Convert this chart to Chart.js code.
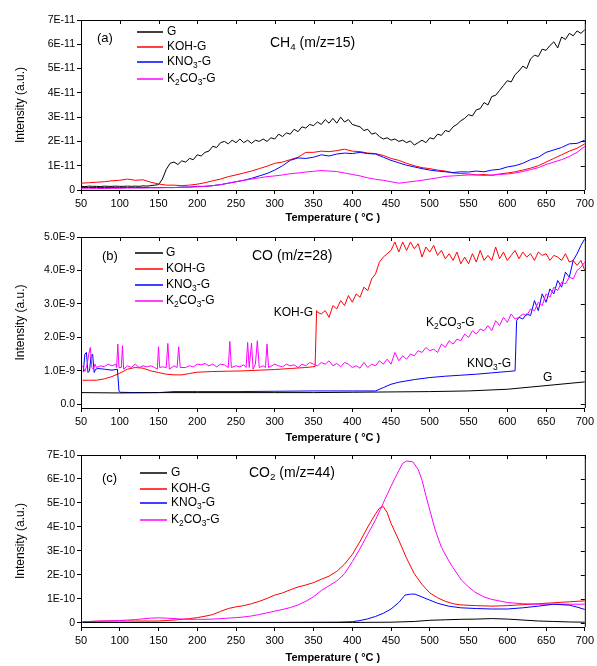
<!DOCTYPE html>
<html lang="en">
<head>
<meta charset="UTF-8">
<title>CH4 / CO / CO2 signals</title>
<script src="https://cdn.jsdelivr.net/npm/chart.js"></script>
<style>
  body { margin: 0; background: #fff; }
  canvas { display: block; }
</style>
</head>
<body>
<canvas id="chA" width="597" height="228"></canvas>
<canvas id="chB" width="597" height="218"></canvas>
<canvas id="chC" width="597" height="220"></canvas>
<script>
// temperature grids (deg C)
const t5 = [50,55,60,65,70,75,80,85,90,95,100,105,110,115,120,125,130,135,140,145,150,155,160,165,170,175,180,185,190,195,200,205,210,215,220,225,230,235,240,245,250,255,260,265,270,275,280,285,290,295,300,305,310,315,320,325,330,335,340,345,350,355,360,365,370,375,380,385,390,395,400,405,410,415,420,425,430,435,440,445,450,455,460,465,470,475,480,485,490,495,500,505,510,515,520,525,530,535,540,545,550,555,560,565,570,575,580,585,590,595,600,605,610,615,620,625,630,635,640,645,650,655,660,665,670,675,680,685,690,695,700];
const t10 = [50,60,70,80,90,100,110,120,130,140,150,160,170,180,190,200,210,220,230,240,250,260,270,280,290,300,310,320,330,340,350,360,370,380,390,400,410,420,430,440,450,460,470,480,490,500,510,520,530,540,550,560,570,580,590,600,610,620,630,640,650,660,670,680,690,700];
const t50 = [50,100,150,200,250,300,350,400,450,500,550,600,650,700];
const tempTicks = [50,100,150,200,250,300,350,400,450,500,550,600,650,700];

// (a) CH4 m/z=15, units of 1E-11
const ch4Ticks = [0,1,2,3,4,5,6,7];
const ch4Labels = ['0','1E-11','2E-11','3E-11','4E-11','5E-11','6E-11','7E-11'];
const ch4G = [0.15,0.14,0.16,0.15,0.15,0.14,0.16,0.15,0.15,0.16, 0.15,0.15,0.16,0.15,0.16,0.15,0.17,0.16,0.18,0.2,
  0.22,0.45,0.85,1.1,1.15,1.05,1.2,1.15,1.3,1.25, 1.45,1.4,1.55,1.6,1.8,1.75,1.95,2.0,1.9,2.05,
  1.95,2.1,1.95,2.05,1.92,2.05,2.0,2.1,2.0,2.15, 2.1,2.3,2.2,2.35,2.3,2.5,2.4,2.6,2.55,2.7,
  2.65,2.8,2.7,2.9,2.75,2.95,2.75,3.0,2.8,2.9, 2.7,2.65,2.6,2.45,2.5,2.3,2.35,2.2,2.1,2.15,
  2.05,2.1,2.0,2.05,1.95,2.02,1.85,1.95,2.05,1.95, 2.15,2.1,2.3,2.25,2.45,2.4,2.6,2.7,2.85,2.95,
  3.1,3.05,3.3,3.35,3.6,3.5,3.85,3.9,4.1,4.3, 4.5,4.45,4.75,4.9,5.1,5.0,5.4,5.55,5.5,5.8,
  5.75,5.95,6.1,5.85,6.3,6.2,6.45,6.35,6.55,6.45, 6.6];
const ch4KOH = [0.28,0.3,0.32,0.34,0.38,0.4,0.45,0.4,0.42,0.32, 0.25,0.2,0.2,0.18,0.2,0.24,0.3,0.38,0.45,0.55,
  0.62,0.7,0.78,0.88,0.98,1.1,1.15,1.25,1.35,1.55, 1.55,1.6,1.58,1.62,1.68,1.6,1.58,1.52,1.5,1.42,
  1.3,1.22,1.1,1.0,0.92,0.88,0.82,0.78,0.7,0.68, 0.66,0.62,0.64,0.6,0.66,0.7,0.75,0.82,0.9,1.0,
  1.15,1.3,1.45,1.6,1.72,1.9];
const ch4KNO3 = [0.1,0.1,0.1,0.1,0.1,0.1,0.1,0.1,0.1,0.1, 0.1,0.1,0.1,0.12,0.12,0.15,0.15,0.18,0.22,0.28,
  0.34,0.4,0.48,0.58,0.68,0.82,1.0,1.22,1.32,1.3, 1.35,1.45,1.4,1.48,1.52,1.5,1.55,1.5,1.48,1.35,
  1.22,1.12,1.02,0.95,0.88,0.82,0.78,0.75,0.72,0.75, 0.74,0.78,0.75,0.82,0.85,0.95,1.0,1.1,1.25,1.35,
  1.55,1.65,1.75,1.9,1.92,2.05];
const ch4K2CO3 = [0.05,0.05,0.06,0.06,0.07,0.07,0.08,0.08,0.08,0.09, 0.09,0.1,0.1,0.11,0.12,0.13,0.15,0.18,0.22,0.28,
  0.34,0.4,0.45,0.5,0.55,0.58,0.62,0.67,0.7,0.74, 0.77,0.8,0.78,0.76,0.7,0.64,0.58,0.5,0.44,0.4,
  0.34,0.28,0.32,0.36,0.4,0.45,0.5,0.56,0.58,0.6, 0.62,0.62,0.6,0.62,0.64,0.66,0.7,0.76,0.84,0.92,
  1.05,1.15,1.25,1.38,1.55,1.8];

// (b) CO m/z=28, units of 1E-9
const coTicks = [0,1,2,3,4,5];
const coLabels = ['0.0','1.0E-9','2.0E-9','3.0E-9','4.0E-9','5.0E-9'];
const coG = [0.35,0.34,0.35,0.35,0.35,0.35,0.35,0.36,0.37,0.38,0.4,0.45,0.56,0.67];
const coKOHt = [52,60,70,80,90,100,110,120,130,140,150,160,170,180,190,200,220,240,260,280,300,320,340,352,354,
  355,360,365,370,375,380,385,390,395,400,405,410,415,420,425,430,435,440,445,450,455,460,465,470,475,480,485,490,495,500,
  505,510,515,520,525,530,535,540,545,550,555,560,565,570,575,580,585,590,595,600,605,610,615,620,625,630,635,640,645,650,
  655,660,665,670,675,680,685,690,695,700];
const coKOH = [0.72,0.72,0.72,0.76,0.83,0.93,1.05,1.1,1.08,1.0,0.95,0.9,0.88,0.88,0.92,0.96,0.98,0.99,1.0,1.02,1.04,1.07,1.1,1.13,2.8,
  2.75,2.7,2.8,2.6,2.95,2.85,3.1,2.95,3.25,3.05, 3.3,3.2,3.5,3.4,3.75,3.9,4.25,4.4,4.5,4.6,
  4.85,4.55,4.85,4.6,4.85,4.65,4.8,4.4,4.7,4.55, 4.75,4.45,4.6,4.35,4.5,4.3,4.55,4.2,4.4,4.2,
  4.5,4.25,4.6,4.3,4.45,4.3,4.7,4.35,4.55,4.3, 4.45,4.6,4.35,4.55,4.4,4.5,4.3,4.55,4.45,4.5,
  4.3,4.45,4.4,4.3,4.5,4.25,4.3,4.15,4.3,4.0];
const coKNO3t = [53,55,57,59,61,63,65,67,69,72,80,90,97,99,100,120,150,170,200,250,300,350,400,430,440,450,460,480,500,520,540,560,580,600,610,612,
  615,620,625,630,635,640,645,650,655,660,665,670,675,680,685,690,695,700];
const coKNO3 = [0.97,1.5,1.55,0.95,1.0,1.45,1.5,0.95,1.05,1.07,1.05,1.02,1.05,0.4,0.36,0.35,0.35,0.38,0.38,0.38,0.39,0.4,0.4,0.4,0.5,0.6,0.66,0.74,0.8,0.84,0.87,0.9,0.94,0.98,1.0,2.5,
  2.6,2.55,2.7,2.65,3.1,2.8,3.3,3.05,3.45,3.3,3.7,3.5,3.95,3.8,4.3,4.5,4.75,4.95];
const coK2CO3t = [52,55,58,60,62,64,66,68,70,75,80,85,90,95,96,97.5,99,102,103.5,105,110,115,120,125,130,135,140,145,148.5,150,
  151.5,155,160,162,164,170,174,176,178,185,190,195,200,205,210,215,220,225,230,235,240,242,244,250,255,260,263,265,267,270,
  272,275,277.5,280,285,288,290,292,
  300,305,310,315,320,325,330,335,340,345,350,355,360,365,370,375,380,385,390,395,400,405,410,415,420,425,430,435,440,445,
  450,455,460,465,470,475,480,485,490,495,500,505,510,515,520,525,530,535,540,545,550,555,560,565,570,575,580,585,590,595,
  600,605,610,615,620,625,630,635,640,645,650,655,660,665,670,675,680,685,690,695,700];
const coK2CO3 = [1.15,0.98,1.2,1.5,1.7,1.1,1.05,1.2,1.1,1.15, 1.12,1.2,1.15,1.2,1.1,1.8,1.1,1.1,1.75,1.05,
  1.15,1.1,1.2,1.1,1.15,1.12,1.15,1.1,1.05,1.72, 1.1,1.12,1.1,1.82,1.05,1.15,1.1,1.72,1.1,1.1,
  1.15,1.12,1.2,1.18,1.22,1.15,1.2,1.12,1.2,1.18, 1.1,1.88,1.1,1.15,1.12,1.18,1.1,1.85,1.1,1.83,
  1.05,1.2,1.9,1.1,1.15,1.1,1.8,1.1,
  1.2,1.15,1.12,1.2,1.15,1.18,1.1,1.2,1.15,1.25, 1.2,1.15,1.25,1.2,1.3,1.15,1.22,1.12,1.25,1.2,
  1.1,1.15,1.08,1.25,1.1,1.2,1.15,1.3,1.2,1.35, 1.2,1.55,1.3,1.45,1.35,1.5,1.45,1.6,1.55,1.7,
  1.6,1.65,1.55,1.8,1.7,1.9,1.8,1.95,1.9,2.1, 2.0,2.2,2.1,2.25,2.2,2.35,2.2,2.5,2.35,2.6,
  2.45,2.7,2.55,2.6,2.7,2.65,2.85,2.8,3.05,2.95, 3.3,3.2,3.5,3.4,3.65,3.6,3.8,3.75,4.0,4.1, 4.25];

// (c) CO2 m/z=44, units of 1E-10
const co2Ticks = [0,1,2,3,4,5,6,7];
const co2Labels = ['0','1E-10','2E-10','3E-10','4E-10','5E-10','6E-10','7E-10'];
const co2Gt = [52,100,200,300,400,450,480,500,520,540,560,580,600,620,640,660,680,700];
const co2G = [0.02,0.02,0.02,0.02,0.02,0.03,0.06,0.11,0.13,0.15,0.16,0.18,0.16,0.12,0.08,0.06,0.04,0.03];
const co2KOHt = [52,60,70,80,90,100,110,120,130,140,150,160,170,180,190,200,210,220,230,240,250,260,270,280,290,300,310,320,330,340,350,360,370,380,390,400,410,420,430,435,440,445,450,460,470,480,490,500,510,520,530,540,560,580,600,620,640,660,680,700];
const co2KOH = [0.05,0.06,0.07,0.08,0.08,0.08,0.08,0.08,0.08,0.08,0.08,0.1,0.12,0.15,0.18,0.22,0.28,0.35,0.48,0.6,0.67,0.72,0.8,0.9,1.02,1.16,1.25,1.38,1.5,1.58,1.68,1.82,1.95,2.15,2.45,2.85,3.4,4.0,4.55,4.78,4.85,4.6,4.15,3.45,2.7,2.05,1.6,1.25,1.05,0.9,0.8,0.75,0.72,0.7,0.72,0.76,0.8,0.84,0.88,0.92];
const co2KNO3t = [52,100,200,300,380,400,410,420,430,440,450,460,468,475,481,490,500,510,524,540,560,580,600,620,640,660,680,690,700];
const co2KNO3 = [0.02,0.02,0.02,0.02,0.03,0.05,0.1,0.17,0.27,0.4,0.58,0.85,1.16,1.2,1.2,1.08,0.95,0.82,0.7,0.63,0.6,0.58,0.58,0.63,0.7,0.78,0.74,0.66,0.56];
const co2K2CO3t = [52,60,70,80,90,100,110,120,130,140,150,160,170,180,190,200,210,220,230,240,250,260,270,280,290,300,310,320,330,340,350,360,370,380,390,400,410,420,430,440,450,460,465,470,478,485,490,495,500,507,515,524,530,541,550,558,570,580,600,620,640,660,680,700];
const co2K2CO3 = [0.05,0.06,0.07,0.08,0.09,0.1,0.12,0.14,0.17,0.2,0.21,0.2,0.18,0.16,0.15,0.15,0.15,0.16,0.18,0.2,0.22,0.25,0.29,0.35,0.42,0.49,0.56,0.64,0.75,0.9,1.09,1.35,1.55,1.75,2.05,2.55,3.1,3.7,4.3,5.0,5.7,6.35,6.65,6.75,6.72,6.4,5.95,5.3,4.7,3.87,3.15,2.62,2.3,1.78,1.5,1.29,1.08,0.98,0.85,0.8,0.78,0.78,0.78,0.78];

const FONT = '"Liberation Sans", Arial, sans-serif';
const BLACK = '#000000', RED = '#ff0000', BLUE = '#0000ff', MAGENTA = '#ff00ff';

function pts(xs, ys) { return xs.map((t, i) => ({ x: t, y: ys[i] })); }

// text with "_n" subscripts
function rich(ctx, str, x, y, size, align) {
  const parts = [];
  for (let i = 0; i < str.length; i++) {
    if (str[i] === '_') { parts.push([str[i + 1], 1]); i++; }
    else if (parts.length && !parts[parts.length - 1][1]) parts[parts.length - 1][0] += str[i];
    else parts.push([str[i], 0]);
  }
  const f = sub => `${sub ? size * 0.7 : size}px ${FONT}`;
  let w = 0;
  parts.forEach(p => { ctx.font = f(p[1]); w += ctx.measureText(p[0]).width; });
  let cx = align === 'right' ? x - w : align === 'center' ? x - w / 2 : x;
  ctx.textAlign = 'left';
  ctx.textBaseline = 'middle';
  parts.forEach(p => {
    ctx.font = f(p[1]);
    ctx.fillText(p[0], cx, p[1] ? y + size * 0.32 : y);
    cx += ctx.measureText(p[0]).width;
  });
}

function decor(o) {
  return {
    id: 'decor',
    afterDraw(chart) {
      const { ctx, chartArea: a, scales: { x, y } } = chart;
      ctx.save();
      ctx.strokeStyle = BLACK;
      ctx.lineWidth = 1;
      ctx.beginPath();
      ctx.moveTo(a.left, a.top + 0.5); ctx.lineTo(a.right + 0.5, a.top + 0.5);
      ctx.lineTo(a.right + 0.5, a.bottom);
      tempTicks.forEach(t => {
        const px = Math.round(x.getPixelForValue(t)) + 0.5;
        ctx.moveTo(px, a.top); ctx.lineTo(px, a.top + 4);
      });
      o.yTicks.forEach(v => {
        const py = Math.round(y.getPixelForValue(v)) + 0.5;
        ctx.moveTo(a.right, py); ctx.lineTo(a.right - 4, py);
      });
      ctx.stroke();

      // legend
      ctx.fillStyle = BLACK;
      ctx.lineWidth = 1.5;
      o.legend.rows.forEach(r => {
        ctx.strokeStyle = r.color;
        ctx.beginPath();
        ctx.moveTo(o.legend.x1, r.y); ctx.lineTo(o.legend.x2, r.y);
        ctx.stroke();
        rich(ctx, r.text, o.legend.tx, r.y, 12, 'left');
      });
      o.notes.forEach(n => rich(ctx, n.text, n.x, n.y, n.size, n.align || 'left'));
      ctx.restore();
    }
  };
}

function panel(id, o) {
  return new Chart(document.getElementById(id), {
    type: 'line',
    data: {
      datasets: o.series.map(s => ({
        data: pts(s.x, s.y), borderColor: s.color, borderWidth: 1,
        pointRadius: 0, tension: 0, fill: false
      }))
    },
    options: {
      responsive: false,
      animation: false,
      layout: { padding: { top: o.top, right: 10, left: 0, bottom: 0 } },
      plugins: { legend: { display: false }, tooltip: { enabled: false } },
      scales: {
        x: {
          type: 'linear', min: 50, max: 700,
          afterBuildTicks: s => { s.ticks = tempTicks.map(v => ({ value: v })); },
          afterFit: s => { s.height = o.xh; },
          grid: { drawOnChartArea: false, tickLength: 4, color: BLACK },
          border: { color: BLACK },
          ticks: { color: BLACK, font: { family: FONT, size: 11 }, padding: 3, maxRotation: 0 },
          title: { display: true, text: 'Temperature ( °C )', color: BLACK,
                   font: { family: FONT, size: 11, weight: 'bold' }, padding: { top: 0, bottom: o.tb } }
        },
        y: {
          min: o.ymin, max: o.ymax,
          afterBuildTicks: s => { s.ticks = o.yTicks.map(v => ({ value: v })); },
          afterFit: s => { s.width = 81; },
          grid: { drawOnChartArea: false, tickLength: 4, color: BLACK },
          border: { color: BLACK },
          ticks: { color: BLACK, font: { family: FONT, size: 10.5 }, padding: 2,
                   callback: v => o.yLabels[o.yTicks.indexOf(v)] },
          title: { display: true, text: 'Intensity (a.u.)', color: BLACK,
                   font: { family: FONT, size: 12 }, padding: { top: 13, bottom: 0 } }
        }
      }
    },
    plugins: [decor(o)]
  });
}

panel('chA', {
  top: 20, xh: 38, tb: 3, ymin: 0, ymax: 7, yTicks: ch4Ticks, yLabels: ch4Labels,
  series: [
    { x: t10, y: ch4K2CO3, color: MAGENTA },
    { x: t10, y: ch4KNO3, color: BLUE },
    { x: t10, y: ch4KOH, color: RED },
    { x: t5, y: ch4G, color: BLACK }
  ],
  legend: { x1: 137, x2: 163, tx: 167, rows: [
    { text: 'G', color: BLACK, y: 32 },
    { text: 'KOH-G', color: RED, y: 47 },
    { text: 'KNO_3-G', color: BLUE, y: 62 },
    { text: 'K_2CO_3-G', color: MAGENTA, y: 79 }
  ] },
  notes: [
    { text: '(a)', x: 97, y: 38, size: 13 },
    { text: 'CH_4 (m/z=15)', x: 270, y: 43, size: 14 }
  ]
});

panel('chB', {
  top: 9, xh: 38, tb: 1, ymin: -0.11, ymax: 5, yTicks: coTicks, yLabels: coLabels,
  series: [
    { x: t50, y: coG, color: BLACK },
    { x: coK2CO3t, y: coK2CO3, color: MAGENTA },
    { x: coKNO3t, y: coKNO3, color: BLUE },
    { x: coKOHt, y: coKOH, color: RED }
  ],
  legend: { x1: 135, x2: 163, tx: 166, rows: [
    { text: 'G', color: BLACK, y: 25 },
    { text: 'KOH-G', color: RED, y: 41 },
    { text: 'KNO_3-G', color: BLUE, y: 57 },
    { text: 'K_2CO_3-G', color: MAGENTA, y: 73 }
  ] },
  notes: [
    { text: '(b)', x: 102, y: 28, size: 13 },
    { text: 'CO (m/z=28)', x: 252, y: 28, size: 14 },
    { text: 'KOH-G', x: 313, y: 85, size: 12, align: 'right' },
    { text: 'K_2CO_3-G', x: 426, y: 95, size: 12 },
    { text: 'KNO_3-G', x: 467, y: 136, size: 12 },
    { text: 'G', x: 543, y: 150, size: 12 }
  ]
});

panel('chC', {
  top: 9, xh: 39, tb: 1, ymin: -0.17, ymax: 7, yTicks: co2Ticks, yLabels: co2Labels,
  series: [
    { x: co2Gt, y: co2G, color: BLACK },
    { x: co2KNO3t, y: co2KNO3, color: BLUE },
    { x: co2K2CO3t, y: co2K2CO3, color: MAGENTA },
    { x: co2KOHt, y: co2KOH, color: RED }
  ],
  legend: { x1: 140, x2: 167, tx: 171, rows: [
    { text: 'G', color: BLACK, y: 27 },
    { text: 'KOH-G', color: RED, y: 43 },
    { text: 'KNO_3-G', color: BLUE, y: 57 },
    { text: 'K_2CO_3-G', color: MAGENTA, y: 74 }
  ] },
  notes: [
    { text: '(c)', x: 102, y: 32, size: 13 },
    { text: 'CO_2 (m/z=44)', x: 249, y: 27, size: 14 }
  ]
});
</script>
</body>
</html>
